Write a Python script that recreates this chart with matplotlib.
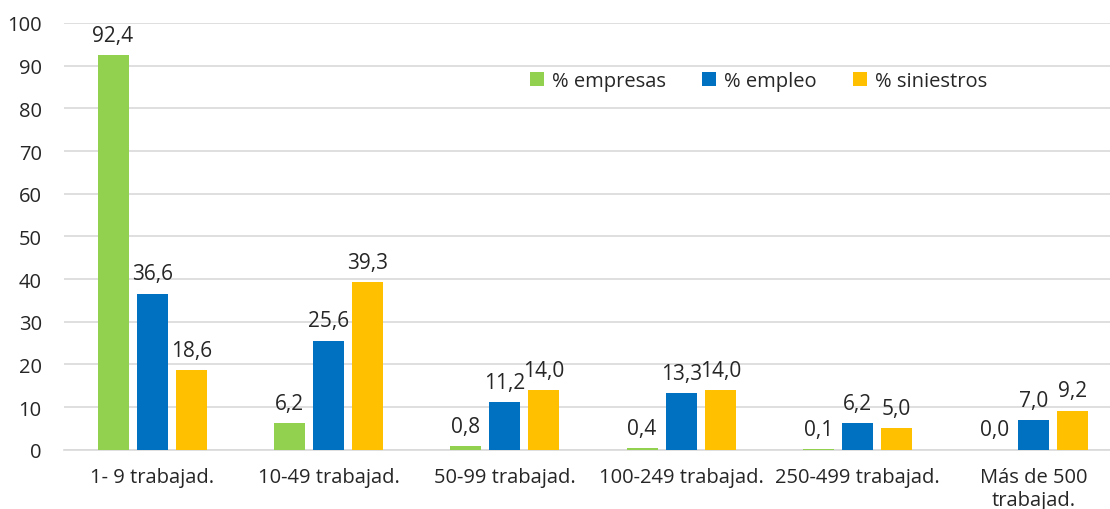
import matplotlib.pyplot as plt
import numpy as np

plt.rcParams['font.family'] = ['Open Sans', 'DejaVu Sans']

categorias = ['1- 9 trabajad.', '10-49 trabajad.', '50-99 trabajad.',
              '100-249 trabajad.', '250-499 trabajad.', 'Más de 500\ntrabajad.']
empresas = [92.4, 6.2, 0.8, 0.4, 0.1, 0.0]
empleo = [36.6, 25.6, 11.2, 13.3, 6.2, 7.0]
siniestros = [18.6, 39.3, 14.0, 14.0, 5.0, 9.2]

series = [('% empresas', empresas, '#92d050'),
          ('% empleo', empleo, '#0070c0'),
          ('% siniestros', siniestros, '#ffc000')]

txt = '#262626'
fig = plt.figure(figsize=(11.1, 5.1), dpi=100)
ax = fig.add_axes([64 / 1110, 0.116, 1058 / 1110, 0.837])

x = np.arange(len(categorias))
w = 0.176
step = 0.222
for i, (nombre, vals, color) in enumerate(series):
    pos = x + (i - 1) * step
    ax.bar(pos, vals, w, color=color, label=nombre, zorder=3)
    for p, v in zip(pos, vals):
        ax.text(p, v + 2.2, f'{v:.1f}'.replace('.', ','), ha='center', va='bottom',
                fontsize=15, color=txt)

ax.set_ylim(0, 100)
ax.set_xlim(-0.5, len(categorias) - 0.5)
ax.set_yticks(range(0, 101, 10))
ax.set_xticks(x)
ax.set_xticklabels(categorias)
ax.tick_params(axis='both', length=0, labelsize=14.5, labelcolor=txt)
ax.tick_params(axis='x', pad=12)
ax.tick_params(axis='y', pad=16)
ax.grid(axis='y', color='#d9d9d9', linewidth=1.2, zorder=0)
for s in ['top', 'right', 'left']:
    ax.spines[s].set_visible(False)
ax.spines['bottom'].set_color('#d9d9d9')
ax.spines['bottom'].set_linewidth(1.2)

ax.legend(loc='upper left', bbox_to_anchor=(0.423, 0.93), ncol=3, frameon=False,
          fontsize=14.5, handlelength=0.7, handleheight=0.7, columnspacing=1.8,
          handletextpad=0.4, labelcolor=txt)

fig.savefig('out.png', dpi=100)
